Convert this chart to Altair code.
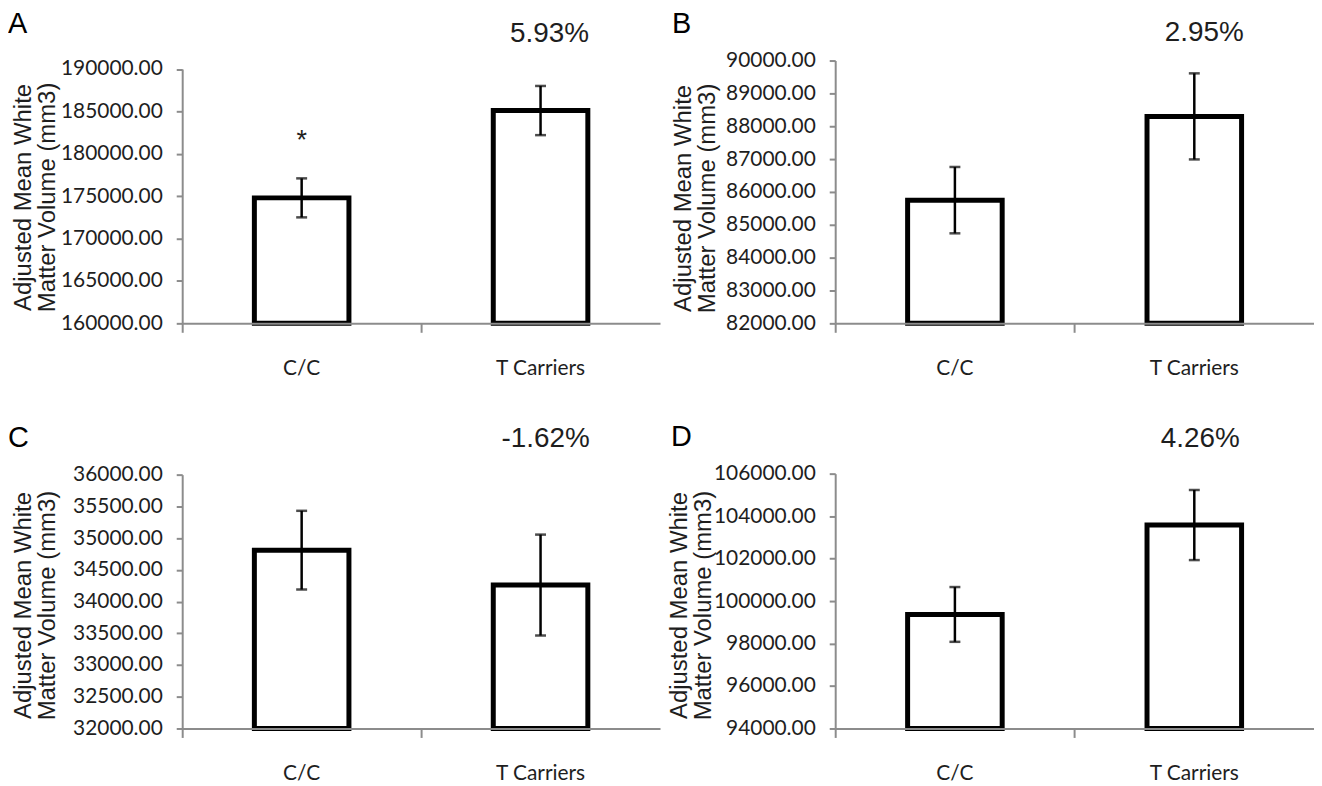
import altair as alt
import pandas as pd

categories = ["C/C", "T Carriers"]

letters = ["A", "B", "C", "D"]
percent_labels = ["5.93%", "2.95%", "-1.62%", "4.26%"]

means_a = [174800, 185100]
errors_a = [2300, 2900]
sig_a = ["*", ""]
ticks_a = [160000, 165000, 170000, 175000, 180000, 185000, 190000]

means_b = [85750, 88300]
errors_b = [1010, 1310]
sig_b = ["", ""]
ticks_b = [82000, 83000, 84000, 85000, 86000, 87000, 88000, 89000, 90000]

means_c = [34810, 34260]
errors_c = [620, 795]
sig_c = ["", ""]
ticks_c = [32000, 32500, 33000, 33500, 34000, 34500, 35000, 35500, 36000]

means_d = [99370, 103580]
errors_d = [1290, 1650]
sig_d = ["", ""]
ticks_d = [94000, 96000, 98000, 100000, 102000, 104000, 106000]

y_title = ["Adjusted  Mean White", "Matter Volume (mm3)"]

AXIS_GRAY = "#8c8c8c"
TXT = "#1e1e1e"
LABEL_FONT = "Lato"
TITLE_FONT = "Liberation Sans"


def panel(letter, pct, means, errs, sig, ticks, width, height, range_top,
          letter_dx, letter_dy, pct_dx, pct_dy, title_x, title_y):
    df = pd.DataFrame({
        "group": categories,
        "mean": means,
        "lo": [m - e for m, e in zip(means, errs)],
        "hi": [m + e for m, e in zip(means, errs)],
        "base": [ticks[0]] * len(categories),
        "sig": sig,
    })
    note = pd.DataFrame({"group": [categories[-1]], "pct": [pct], "letter": [letter]})

    xscale = alt.Scale(domain=categories, paddingInner=0, paddingOuter=0)
    xaxis = alt.Axis(
        title=None, bandPosition=0, labelAngle=0,
        domainColor=AXIS_GRAY, domainWidth=2, tickColor=AXIS_GRAY, tickWidth=2,
        tickSize=9, labelFont=LABEL_FONT, labelFontSize=21, labelColor=TXT,
        labelBaseline="middle", labelPadding=36, zindex=1,
    )
    x = alt.X("group:N", scale=xscale, axis=xaxis)

    yscale = alt.Scale(domain=[ticks[0], ticks[-1]], range=[height, range_top],
                       zero=False, nice=False)
    yaxis = alt.Axis(
        values=ticks, format=".2f", grid=False, labelOverlap=False,
        domainColor=AXIS_GRAY, domainWidth=2, tickColor=AXIS_GRAY, tickWidth=2,
        tickSize=6, labelFont=LABEL_FONT, labelFontSize=21, labelColor=TXT,
        labelPadding=14,
        title=y_title, titleFont=TITLE_FONT, titleFontSize=24,
        titleFontWeight="normal", titleColor=TXT, titleLineHeight=24,
        titleX=title_x, titleY=title_y, titleAlign="center",
        titleBaseline="middle", titleAngle=270,
    )

    def y(field):
        return alt.Y(field, scale=yscale, axis=yaxis)

    base = alt.Chart(df)
    bars = base.mark_bar(fill="white", stroke="black", strokeWidth=5, size=95).encode(
        x=x, y=y("mean:Q"), y2="base:Q")
    rule = base.mark_rule(color="black", strokeWidth=2.5).encode(
        x=x, y=y("lo:Q"), y2="hi:Q")
    cap_lo = base.mark_tick(color="black", thickness=2.5, size=11).encode(
        x=x, y=y("lo:Q"))
    cap_hi = base.mark_tick(color="black", thickness=2.5, size=11).encode(
        x=x, y=y("hi:Q"))
    star = base.mark_text(font=TITLE_FONT, fontSize=27, color=TXT, dy=-30,
                          baseline="alphabetic").encode(
        x=x, y=y("hi:Q"), text="sig:N")

    nb = alt.Chart(note)
    pct_text = nb.mark_text(font=TITLE_FONT, fontSize=28, color=TXT, dx=pct_dx,
                            baseline="alphabetic", align="center").encode(
        x=x, y=alt.value(pct_dy), text="pct:N")
    letter_text = nb.mark_text(font=TITLE_FONT, fontSize=29, color="black",
                               baseline="alphabetic", align="left").encode(
        x=alt.value(letter_dx), y=alt.value(letter_dy), text="letter:N")

    return alt.layer(bars, rule, cap_lo, cap_hi, star, pct_text, letter_text).properties(
        width=width, height=height)


pa = panel(letters[0], percent_labels[0], means_a, errors_a, sig_a, ticks_a,
           480, 264, 8.5, -175, -28, 9, -19, -159, 137)
pb = panel(letters[1], percent_labels[1], means_b, errors_b, sig_b, ticks_b,
           481, 264, 0, -164, -28, 10, -20, -152, 138)
pc = panel(letters[2], percent_labels[2], means_c, errors_c, sig_c, ticks_c,
           480, 256, 1, -175, -27, 5, -27, -159, 132)
pd_ = panel(letters[3], percent_labels[3], means_d, errors_d, sig_d, ticks_d,
            481, 256, 0, -165, -28, 6, -27, -156, 132)

chart = alt.concat(
    pa, pb, pc, pd_, columns=2, bounds="flush", align="each",
    spacing={"row": 151, "column": 176},
).properties(padding=0, background="white").configure_view(stroke=None)

chart.save("out.html", embed_options={"renderer": "svg", "actions": False})
